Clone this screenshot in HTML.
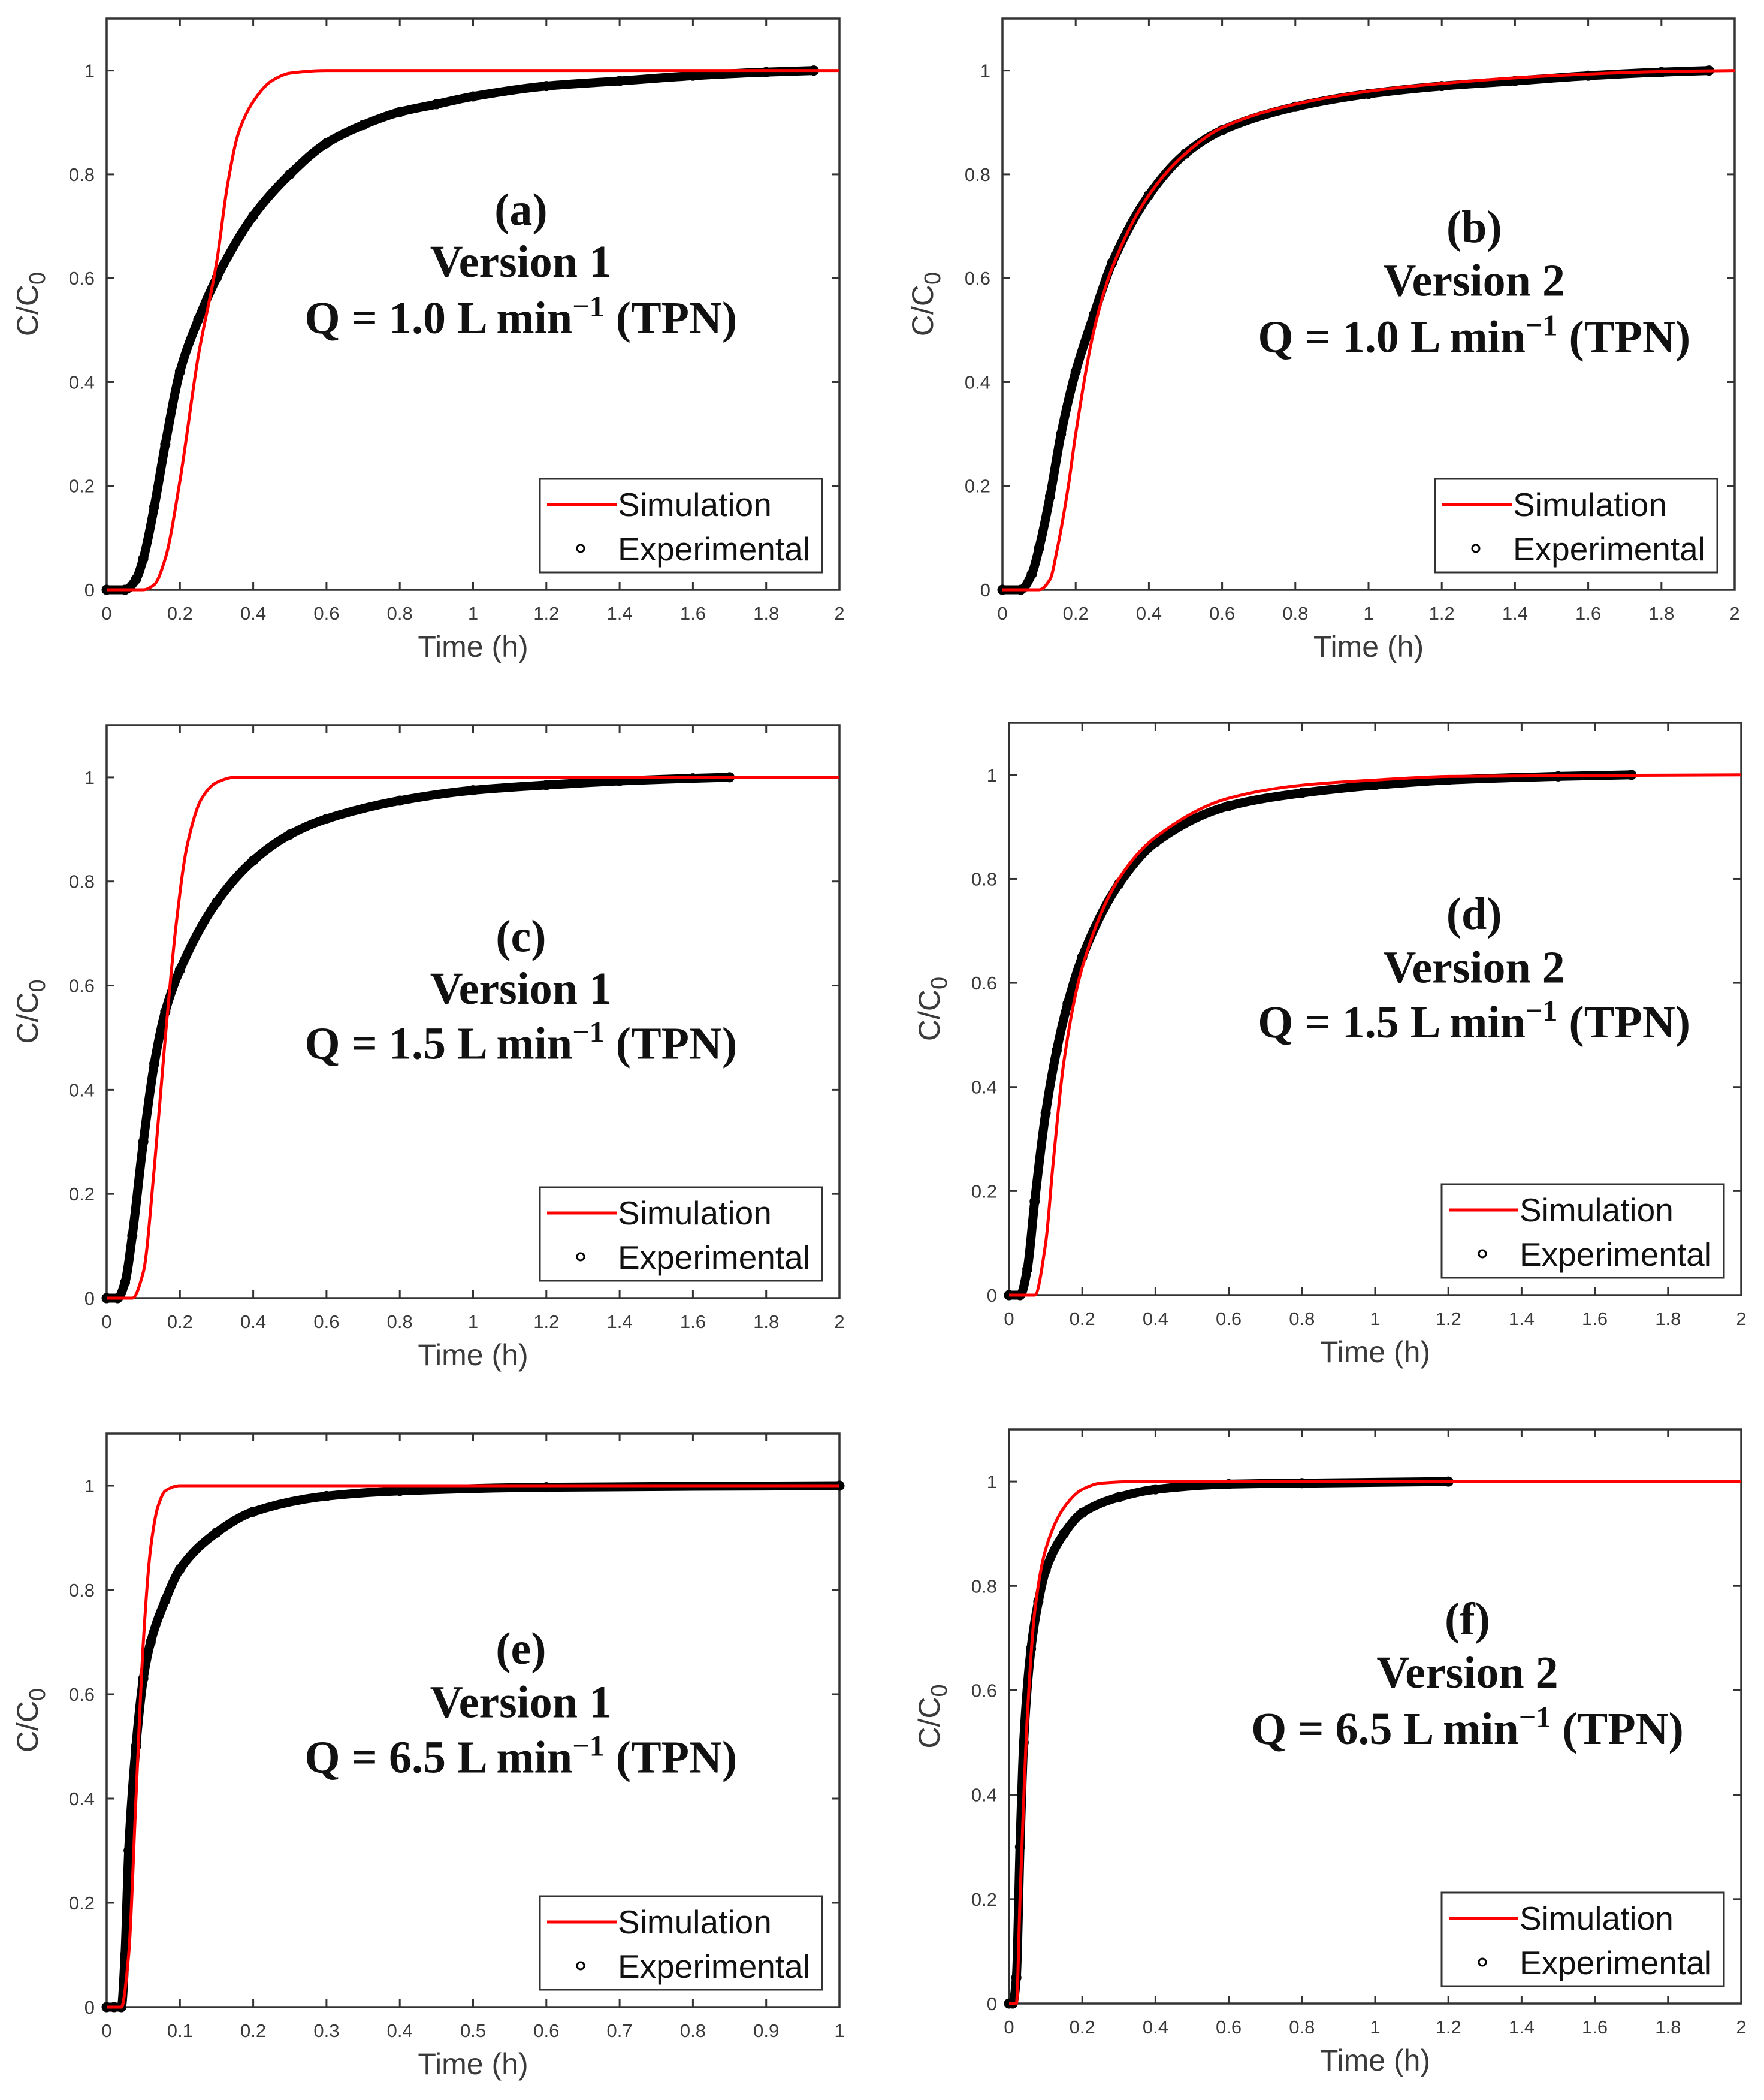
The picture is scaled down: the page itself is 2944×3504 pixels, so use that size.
<!DOCTYPE html>
<html><head><meta charset="utf-8">
<style>
html,body{margin:0;padding:0;background:#fff;}
svg{display:block;}
.tick{font-family:"Liberation Sans",sans-serif;font-size:31px;fill:#3a3a3a;}
.axl{font-family:"Liberation Sans",sans-serif;font-size:50px;fill:#3a3a3a;}
.ann{font-family:"Liberation Serif",serif;font-weight:bold;font-size:76px;fill:#111;}
.leg{font-family:"Liberation Sans",sans-serif;font-size:55px;fill:#111;}
</style></head>
<body>
<svg id="fig" width="2944" height="3504" viewBox="0 0 2944 3504" xmlns="http://www.w3.org/2000/svg"></svg>
<script>
// ---- data (t in hours, C/C0) ----
const simA_t=[0,0.1,0.13,0.16,0.2,0.25,0.3,0.33,0.36,0.4,0.45,0.5,0.6,2];
const simA_c=[0,0,0.01,0.06,0.21,0.45,0.63,0.78,0.88,0.94,0.98,0.995,1,1];
const expA_t=[0,0.05,0.08,0.1,0.13,0.16,0.2,0.25,0.3,0.4,0.5,0.6,0.7,0.8,0.9,1.0,1.2,1.4,1.6,1.8,1.93];
const expA_c=[0,0,0.02,0.06,0.16,0.28,0.42,0.52,0.6,0.72,0.8,0.86,0.895,0.92,0.935,0.95,0.97,0.98,0.99,0.997,1.0];
const simB_t=[0,0.1,0.13,0.15,0.18,0.2,0.25,0.3,0.4,0.5,0.6,0.8,1.0,1.2,1.5,1.8,2];
const simB_c=[0,0,0.02,0.08,0.2,0.3,0.5,0.62,0.76,0.84,0.89,0.935,0.96,0.975,0.99,0.998,1];
const expB_t=[0,0.05,0.08,0.1,0.13,0.16,0.2,0.25,0.3,0.4,0.5,0.6,0.8,1.0,1.2,1.4,1.6,1.8,1.93];
const expB_c=[0,0,0.03,0.08,0.18,0.3,0.42,0.53,0.63,0.76,0.84,0.885,0.93,0.955,0.97,0.98,0.99,0.997,1];
const simC_t=[0,0.07,0.1,0.13,0.16,0.19,0.22,0.26,0.3,0.35,2];
const simC_c=[0,0,0.05,0.25,0.5,0.72,0.87,0.96,0.99,1,1];
const expC_t=[0,0.03,0.05,0.07,0.1,0.13,0.16,0.2,0.3,0.4,0.5,0.6,0.8,1.0,1.2,1.4,1.6,1.7];
const expC_c=[0,0,0.03,0.12,0.3,0.45,0.55,0.63,0.76,0.84,0.89,0.92,0.955,0.975,0.985,0.993,0.998,1];
const simD_t=[0,0.07,0.1,0.12,0.15,0.2,0.3,0.4,0.6,0.8,1.0,1.2,2];
const simD_c=[0,0,0.1,0.25,0.45,0.63,0.8,0.88,0.955,0.98,0.99,0.997,1];
const expD_t=[0,0.03,0.05,0.07,0.1,0.13,0.16,0.2,0.3,0.4,0.6,0.8,1.0,1.2,1.5,1.7];
const expD_c=[0,0,0.05,0.18,0.35,0.47,0.56,0.65,0.79,0.87,0.94,0.965,0.98,0.99,0.997,1];
const simE_t=[0,0.02,0.03,0.04,0.05,0.06,0.07,0.08,0.1,1];
const simE_c=[0,0,0.1,0.4,0.7,0.88,0.96,0.99,1,1];
const expE_t=[0,0.01,0.02,0.025,0.03,0.04,0.05,0.06,0.08,0.1,0.15,0.2,0.3,0.4,0.6,1.0];
const expE_c=[0,0,0,0.1,0.3,0.5,0.63,0.7,0.78,0.84,0.91,0.95,0.98,0.99,0.997,1];
const simF_t=[0,0.02,0.03,0.05,0.07,0.1,0.15,0.2,0.25,0.35,2];
const simF_c=[0,0,0.2,0.55,0.75,0.87,0.95,0.985,0.997,1,1];
const expF_t=[0,0.01,0.02,0.03,0.04,0.06,0.08,0.1,0.15,0.2,0.3,0.4,0.6,0.8,1.2];
const expF_c=[0,0,0.05,0.3,0.5,0.68,0.77,0.83,0.9,0.94,0.97,0.985,0.995,0.997,1];
const xTicks2=[0,0.2,0.4,0.6,0.8,1,1.2,1.4,1.6,1.8,2];
const xTicks1=[0,0.1,0.2,0.3,0.4,0.5,0.6,0.7,0.8,0.9,1];
const yTicks=[0,0.2,0.4,0.6,0.8,1];

const panels=[
 {id:'a',L:178,R:1401,T:31,B:984,xmax:2,xt:xTicks2,st:simA_t,sc:simA_c,et:expA_t,ec:expA_c,lines:['(a)','Version 1','1.0'],cx:310,ty:[143,182,224],ylx:45},
 {id:'b',L:1673,R:2895,T:31,B:984,xmax:2,xt:xTicks2,st:simB_t,sc:simB_c,et:expB_t,ec:expB_c,lines:['(b)','Version 2','1.0'],cx:353,ty:[156,196,238],ylx:1539},
 {id:'c',L:178,R:1401,T:1210,B:2166,xmax:2,xt:xTicks2,st:simC_t,sc:simC_c,et:expC_t,ec:expC_c,lines:['(c)','Version 1','1.5'],cx:310,ty:[158,197,238],ylx:45},
 {id:'d',L:1684,R:2906,T:1206,B:2161,xmax:2,xt:xTicks2,st:simD_t,sc:simD_c,et:expD_t,ec:expD_c,lines:['(d)','Version 2','1.5'],cx:348,ty:[143,183,224],ylx:1550},
 {id:'e',L:178,R:1401,T:2392,B:3349,xmax:1,xt:xTicks1,st:simE_t,sc:simE_c,et:expE_t,ec:expE_c,lines:['(e)','Version 1','6.5'],cx:310,ty:[161,201,242],ylx:45},
 {id:'f',L:1684,R:2906,T:2385,B:3343,xmax:2,xt:xTicks2,st:simF_t,sc:simF_c,et:expF_t,ec:expF_c,lines:['(f)','Version 2','6.5'],cx:343,ty:[142,182,224],ylx:1550}
];
const NS='http://www.w3.org/2000/svg';
const fig=document.getElementById('fig');
function mk(tag,attrs,parent){const e=document.createElementNS(NS,tag);for(const k in attrs)e.setAttribute(k,attrs[k]);parent.appendChild(e);return e;}
// monotone cubic path through pixel points
function monoPath(xs,ys){
  const n=xs.length;const d=[],m=new Array(n).fill(0);
  for(let i=0;i<n-1;i++)d.push((ys[i+1]-ys[i])/(xs[i+1]-xs[i]));
  m[0]=d[0];m[n-1]=d[n-2];
  for(let i=1;i<n-1;i++){
    if(d[i-1]*d[i]<=0)m[i]=0;
    else{const h0=xs[i]-xs[i-1],h1=xs[i+1]-xs[i];const w1=2*h1+h0,w2=h1+2*h0;m[i]=(w1+w2)/(w1/d[i-1]+w2/d[i]);}
  }
  let p='M'+xs[0].toFixed(1)+' '+ys[0].toFixed(1);
  for(let i=0;i<n-1;i++){
    const h=(xs[i+1]-xs[i])/3;
    p+='C'+(xs[i]+h).toFixed(1)+' '+(ys[i]+m[i]*h).toFixed(1)+' '+(xs[i+1]-h).toFixed(1)+' '+(ys[i+1]-m[i+1]*h).toFixed(1)+' '+xs[i+1].toFixed(1)+' '+ys[i+1].toFixed(1);
  }
  return p;
}

panels.forEach(p=>{
  const g=mk('g',{},fig);
  
  
  const sx=v=>p.L+(v/p.xmax)*(p.R-p.L);
  const sy=v=>p.B-(v/1.1)*(p.B-p.T);
  const SY=2.2375;
  p.xt.forEach(v=>{
    const x=sx(v);
    const t1=mk('line',{x1:x,x2:x,y1:p.B,y2:p.B-13,stroke:'#333','stroke-width':3},g);
    
    
    mk('line',{x1:x,x2:x,y1:p.T,y2:p.T+13,stroke:'#333','stroke-width':3},g);
    const tl=mk('text',{x:x,y:p.B+50,'text-anchor':'middle',class:'tick'},g);
    tl.textContent=String(v);
    
    
  });
  yTicks.forEach(v=>{
    const y=sy(v);
    mk('line',{x1:p.L,x2:p.L+13,y1:y,y2:y,stroke:'#333','stroke-width':3},g);
    mk('line',{x1:p.R,x2:p.R-13,y1:y,y2:y,stroke:'#333','stroke-width':3},g);
    const tl=mk('text',{x:p.L-20,y:y+11,'text-anchor':'end',class:'tick'},g);
    tl.textContent=String(v);
    
    
  });
  const box=mk('rect',{x:p.L,y:p.T,width:p.R-p.L,height:p.B-p.T,fill:'none',stroke:'#333','stroke-width':3.5},g);
  
  
  // experimental
  const ep=mk('path',{d:monoPath(p.et.map(sx),p.ec.map(sy)),fill:'none',stroke:'#000','stroke-width':15,'stroke-linejoin':'round','stroke-linecap':'round'},g);
  
  
  p.et.forEach((t,i)=>{
    const c=mk('circle',{cx:sx(t),cy:sy(p.ec[i]),r:7,fill:'none',stroke:'#000','stroke-width':3},g);
    
    
  });
  // simulation
  const sp=mk('path',{d:monoPath(p.st.map(sx),p.sc.map(sy)),fill:'none',stroke:'#ff0000','stroke-width':5,'stroke-linejoin':'round'},g);
  
  
  const xl=mk('text',{x:(p.L+p.R)/2,y:p.B+112,'text-anchor':'middle',class:'axl'},g);
  xl.textContent='Time (h)';
  
  
  const yc=(p.T+p.B)/2;
  const yl=mk('text',{x:p.ylx+18,y:yc,'text-anchor':'middle',class:'axl',transform:'rotate(-90 '+(p.ylx+18)+' '+yc+')'},g);
  yl.innerHTML='C/C<tspan dy="12" font-size="38">0</tspan>';
  
  
  const ax=p.L+p.cx*2.2303;
  const a1=mk('text',{x:ax,y:p.T+p.ty[0]*SY+24,'text-anchor':'middle',class:'ann'},g);
  a1.textContent=p.lines[0];
  
  
  const a2=mk('text',{x:ax,y:p.T+p.ty[1]*SY+24,'text-anchor':'middle',class:'ann'},g);
  a2.textContent=p.lines[1];
  
  
  const a3=mk('text',{x:ax,y:p.T+p.ty[2]*SY+24,'text-anchor':'middle',class:'ann'},g);
  a3.innerHTML='Q = '+p.lines[2]+' L min<tspan dy="-28" font-size="50">\u22121</tspan><tspan dy="28"> (TPN)</tspan>';
  
  
  const lw=471,lh=156,lx=p.R-29-lw,ly=p.B-29-lh;
  const lg=mk('g',{},g);
  
  
  mk('rect',{x:lx,y:ly,width:lw,height:lh,fill:'#fff',stroke:'#333','stroke-width':3},lg);
  const l1=mk('line',{x1:lx+12,x2:lx+128,y1:ly+43,y2:ly+43,stroke:'#ff0000','stroke-width':5},lg);
  
  
  const t1=mk('text',{x:lx+130,y:ly+62,class:'leg'},lg);
  t1.textContent='Simulation';
  
  
  mk('circle',{cx:lx+68,cy:ly+116,r:6,fill:'none',stroke:'#000','stroke-width':3},lg);
  const t2=mk('text',{x:lx+130,y:ly+136,class:'leg'},lg);
  t2.textContent='Experimental';
  
  
});
</script>
</body></html>
